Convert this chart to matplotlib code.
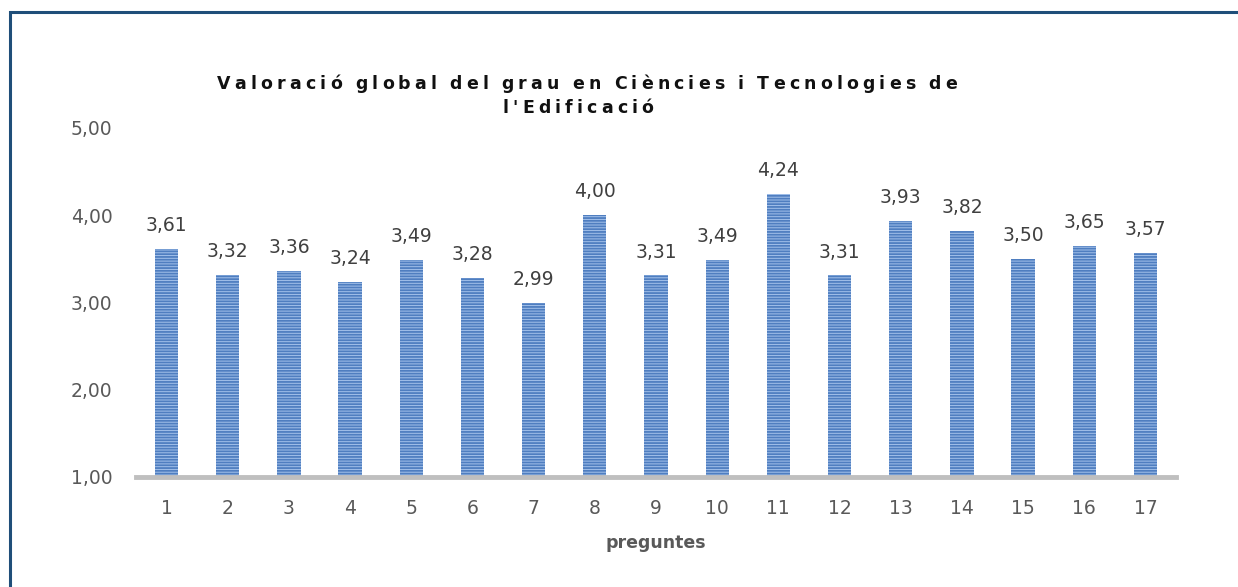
import matplotlib
matplotlib.use("Agg")
import matplotlib.pyplot as plt
from matplotlib.patches import Rectangle

# data
preguntes = [str(i) for i in range(1, 18)]
valors = [3.61, 3.32, 3.36, 3.24, 3.49, 3.28, 2.99, 4.00, 3.31, 3.49,
          4.24, 3.31, 3.93, 3.82, 3.50, 3.65, 3.57]
yticks = [1, 2, 3, 4, 5]
title_lines = ["Valoració global del grau en Ciències i Tecnologies de",
               "l'Edificació"]


def fmt(v):
    return ("%.2f" % v).replace(".", ",")


plt.rcParams['hatch.color'] = '#4F7EC0'
plt.rcParams['hatch.linewidth'] = 1.3

fig = plt.figure(figsize=(12.38, 5.87), dpi=100)
W, H = 1238, 587
ax = fig.add_axes([136 / W, 1 - 477 / H, 1040 / W, 349 / H])

x = list(range(len(valors)))
ax.bar(x, [v - 1 for v in valors], bottom=1, width=0.38,
       color='#A3C1EA', edgecolor='#4F7EC0', linewidth=0, hatch='------')

for xi, v in zip(x, valors):
    ax.annotate(fmt(v), (xi, v), xytext=(0, 10), textcoords='offset points',
                ha='center', va='bottom', fontsize=13.5, color='#404040')

ax.set_xlim(-0.5, len(valors) - 0.5)
ax.set_ylim(1, 5)
ax.set_yticks(yticks)
ax.set_yticklabels([fmt(t) for t in yticks])
ax.set_xticks(x)
ax.set_xticklabels(preguntes)
ax.tick_params(axis='both', length=0, labelsize=13.5, labelcolor='#595959')
ax.tick_params(axis='x', pad=16)
ax.tick_params(axis='y', pad=17)

for s in ['top', 'right', 'left']:
    ax.spines[s].set_visible(False)
ax.spines['bottom'].set_color('#BFBFBF')
ax.spines['bottom'].set_linewidth(3.5)

ax.set_xlabel('preguntes', fontsize=12.5, fontweight='bold', color='#595959',
              labelpad=11)

# title with wide letter spacing, drawn char by char
renderer = fig.canvas.get_renderer()


def char_widths(text):
    widths = []
    for ch in text:
        if ch == ' ':
            widths.append(5.0)
            continue
        t = fig.text(0, 0, ch, fontsize=12.5, fontweight='bold')
        widths.append(t.get_window_extent(renderer).width)
        t.remove()
    return widths


def spaced_line(text, widths, gap, xc, yc):
    total = sum(widths) + gap * (len(text) - 1)
    pos = xc - total / 2
    for ch, w in zip(text, widths):
        if ch != ' ':
            fig.text(pos / W, 1 - yc / H, ch, fontsize=12.5, fontweight='bold',
                     color='#111111', ha='left', va='center')
        pos += w + gap


w1 = char_widths(title_lines[0])
gap = (740 - sum(w1)) / (len(title_lines[0]) - 1)
spaced_line(title_lines[0], w1, gap, 587, 84)
spaced_line(title_lines[1], char_widths(title_lines[1]), gap, 578, 108)

# dark blue frame, cut at the right and bottom edges like the reference
fig.patches.append(Rectangle((10 / W, -0.1), 1.2, 1 - 12 / H + 0.1,
                             transform=fig.transFigure, fill=False,
                             edgecolor='#1F4E79', linewidth=2.2))

fig.savefig("out.png", dpi=100)
